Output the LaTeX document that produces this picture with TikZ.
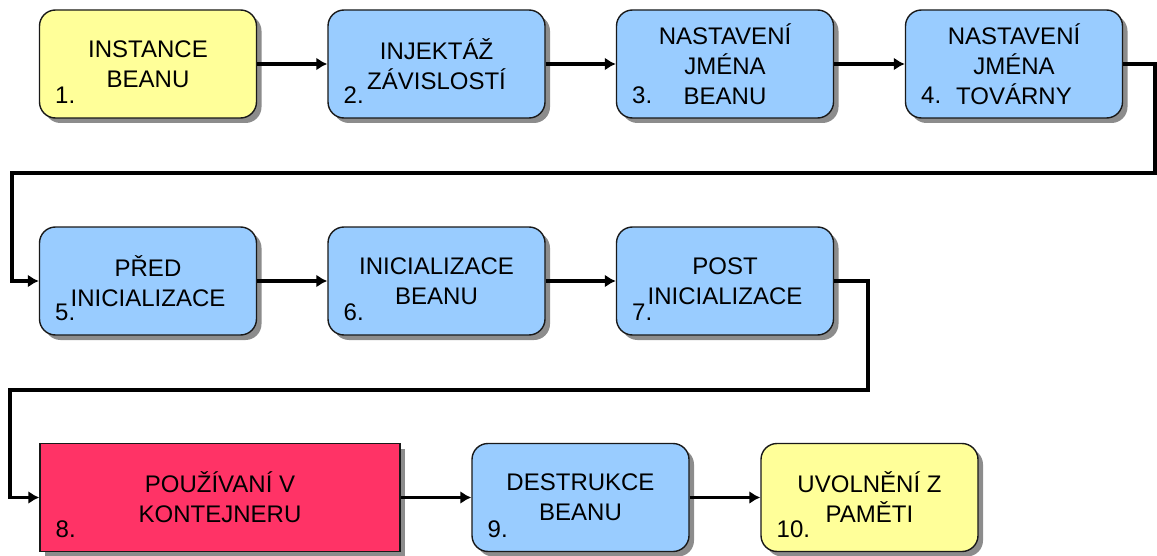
\documentclass[tikz,border=0pt]{standalone}
\usepackage{fontspec}
\setmainfont{Liberation Sans}
\usetikzlibrary{shadows,arrows.meta}
\definecolor{boxyellow}{HTML}{FFFF99}
\definecolor{boxblue}{HTML}{99CCFF}
\definecolor{boxred}{HTML}{FF3366}
\begin{document}
\begin{tikzpicture}[x=0.5pt,y=-0.5pt]
      \useasboundingbox (0,0) rectangle (1157,556);
      \tikzset{
      phase/.style = {draw=black!90, line width=0.7pt, rounded corners=8pt,
        minimum width=108.5pt, minimum height=54pt, align=center,
        font=\fontsize{12}{15}\selectfont,
        drop shadow={shadow xshift=2.5pt, shadow yshift=-2.5pt, fill=black!50, opacity=0.9}},
      num/.style = {anchor=base west, inner sep=0pt, font=\fontsize{12}{15}\selectfont},
      flow/.style = {line width=1.6pt, -{Latex[length=5.5pt,width=6.5pt]}} }

      \node[phase,fill=boxyellow] (b1) at (148,64) {INSTANCE\\BEANU};
      \node[phase,fill=boxblue] (b2) at (436.5,64) {INJEKTÁŽ\\ZÁVISLOSTÍ};
      \node[phase,fill=boxblue] (b3) at (725,64) {NASTAVENÍ\\JMÉNA\\BEANU};
      \node[phase,fill=boxblue] (b4) at (1014,64) {NASTAVENÍ\\JMÉNA\\TOVÁRNY};

      \node[phase,fill=boxblue] (b5) at (148,281) {PŘED\\INICIALIZACE};
      \node[phase,fill=boxblue] (b6) at (436.5,281) {INICIALIZACE\\BEANU};
      \node[phase,fill=boxblue] (b7) at (725,281) {POST\\INICIALIZACE};

      \node[phase,fill=boxred,rounded corners=0pt,minimum width=180pt] (b8) at (220,497.5) {POUŽÍVANÍ V\\KONTEJNERU};
      \node[phase,fill=boxblue] (b9) at (580.5,497.5) {DESTRUKCE\\BEANU};
      \node[phase,fill=boxyellow] (b10) at (869.5,497.5) {UVOLNĚNÍ Z\\PAMĚTI};

      \foreach \i in {1,...,10}
        \node[num] (n\i) at ([shift={(16,-15)}]b\i.south west) {\i.};

      \coordinate (c1) at (1155,173);
      \coordinate (c2) at (12,173);
      \coordinate (c3) at (868,390);
      \coordinate (c4) at (10,390);

      \draw[flow] (b1) -- (b2);
      \draw[flow] (b2) -- (b3);
      \draw[flow] (b3) -- (b4);
      \draw[flow] (b4.east) -| (c1) -- (c2) |- (b5.west);
      \draw[flow] (b5) -- (b6);
      \draw[flow] (b6) -- (b7);
      \draw[flow] (b7.east) -| (c3) -- (c4) |- (b8.west);
      \draw[flow] (b8) -- (b9);
      \draw[flow] (b9) -- (b10);
\end{tikzpicture}
\end{document}
